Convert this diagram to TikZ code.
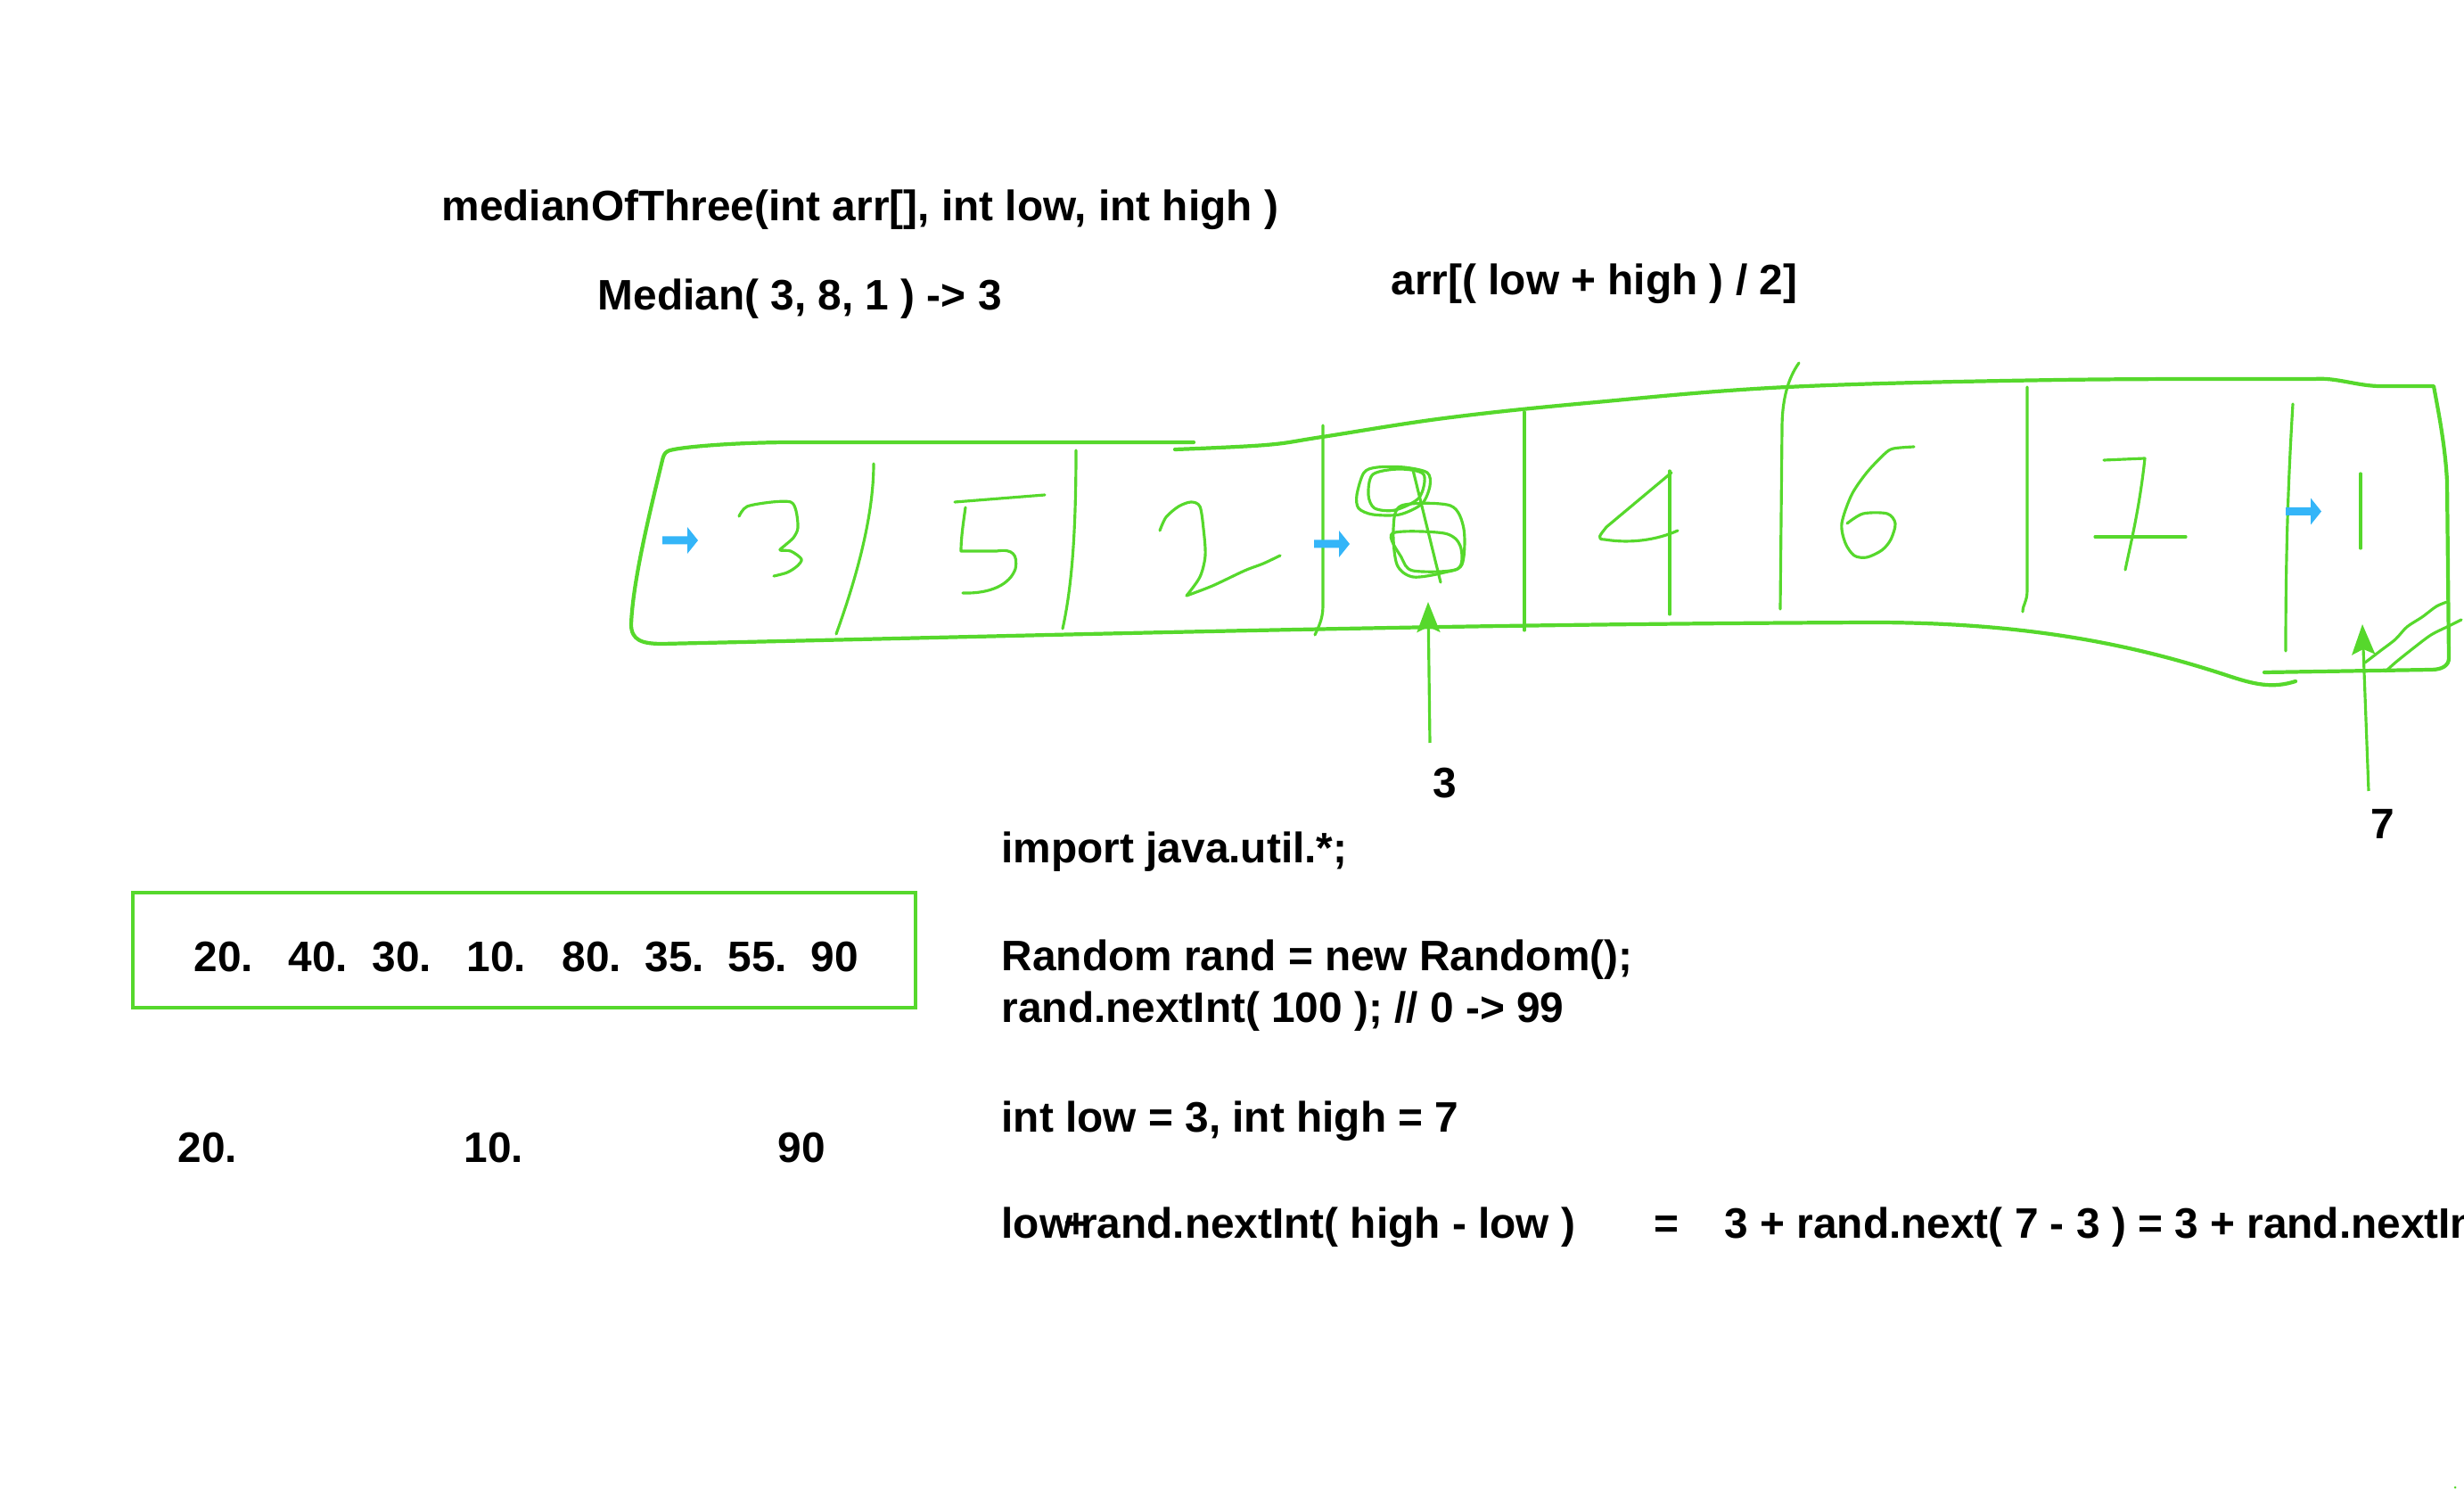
\documentclass[tikz,border=0pt]{standalone}
\usepackage{fontspec}
\setmainfont{Liberation Sans}
\usepackage{tikz}
\usetikzlibrary{arrows.meta}
\usepackage{xcolor}
\definecolor{penGreen}{RGB}{86,216,44}
\definecolor{ptrBlue}{RGB}{52,181,248}
\newcommand{\ptrmark}[1]{\fill[ptrBlue, shift={(#1)}] (0,-0.045) -- (0.28,-0.045) -- (0.28,-0.15) -- (0.40,0) -- (0.28,0.15) -- (0.28,0.045) -- (0,0.045) -- cycle;}

\begin{document}
\begin{tikzpicture}[every node/.style={font=\bfseries\fontsize{13.6}{16}\selectfont, inner sep=0pt},
    outline/.style={penGreen, line width=1.2pt, line cap=round, line join=round},
    stroke/.style={penGreen, line width=0.9pt, line cap=round, line join=round},
    ptr/.style={penGreen, line width=0.9pt, -{Stealth[length=3.4mm, width=2.6mm, inset=0.6mm]}}]
    \useasboundingbox (0,0) rectangle (27.64,-16.72);
    \clip (0,0) rectangle (27.64,-16.72);

    % headings
    \node[anchor=base west] (sig) at (4.95,-2.48) {medianOfThree(int arr[], int low, int high )};
    \node[anchor=base west] (medex) at (6.70,-3.48) {Median( 3, 8, 1 ) -> 3};
    \node[anchor=base west] (midexpr) at (15.60,-3.31) {arr[( low + high ) / 2]};

    % hand drawn array, outline
    \draw[outline] (13.39,-4.96) -- (8.90,-4.96) .. controls (8.20,-4.96) and (7.55,-5.02) .. (7.49,-5.06)
        .. controls (7.45,-5.08) and (7.44,-5.12) .. (7.43,-5.16)
        .. controls (7.30,-5.70) and (7.10,-6.50) .. (7.08,-7.00)
        .. controls (7.08,-7.18) and (7.20,-7.22) .. (7.43,-7.22)
        .. controls (12.0,-7.12) and (16.0,-7.00) .. (21.0,-6.98)
        .. controls (22.8,-6.98) and (24.0,-7.25) .. (25.0,-7.58)
        .. controls (25.3,-7.68) and (25.5,-7.72) .. (25.75,-7.64);
    \draw[outline] plot[smooth, tension=0.6] coordinates {(13.18,-5.04) (14.20,-4.99) (14.83,-4.90) (16.20,-4.69) (17.80,-4.52) (20.05,-4.34) (23.11,-4.26) (25.96,-4.25)}
        .. controls (26.20,-4.23) and (26.45,-4.33) .. (26.70,-4.33) -- (27.30,-4.33)
        .. controls (27.35,-4.60) and (27.43,-5.00) .. (27.45,-5.40) -- (27.47,-7.38)
        .. controls (27.47,-7.46) and (27.40,-7.51) .. (27.27,-7.51) -- (25.40,-7.54);

    % dividers
    \draw[stroke] (9.80,-5.20) .. controls (9.80,-5.80) and (9.60,-6.50) .. (9.38,-7.11);
    \draw[stroke] (12.07,-5.05) .. controls (12.07,-6.00) and (12.02,-6.60) .. (11.92,-7.05);
    \draw[stroke] (14.84,-4.77) -- (14.84,-6.80) .. controls (14.84,-6.95) and (14.78,-7.05) .. (14.75,-7.12);
    \draw[stroke] (17.10,-4.62) -- (17.10,-7.07);
    \draw[stroke] (20.18,-4.07) .. controls (20.05,-4.25) and (19.99,-4.50) .. (19.99,-4.80) -- (19.97,-6.83);
    \draw[stroke] (22.74,-4.34) -- (22.74,-6.62) .. controls (22.74,-6.75) and (22.69,-6.78) .. (22.69,-6.86);
    \draw[stroke] (25.72,-4.53) .. controls (25.68,-5.20) and (25.64,-6.00) .. (25.64,-7.30);

    % digits 3 5 2 8 4 6 7 1
    \draw[stroke] plot[smooth] coordinates {(8.29,-5.79) (8.38,-5.68) (8.66,-5.63) (8.87,-5.63) (8.93,-5.73) (8.95,-5.92) (8.90,-6.03) (8.80,-6.12) (8.75,-6.17) (8.87,-6.18) (8.99,-6.27) (8.94,-6.35) (8.83,-6.42) (8.68,-6.46)};
    \draw[stroke] (10.71,-5.63) -- (11.72,-5.55);
    \draw[stroke] (10.83,-5.69) .. controls (10.80,-5.90) and (10.78,-6.05) .. (10.78,-6.18) -- (11.18,-6.18)
        .. controls (11.36,-6.15) and (11.42,-6.22) .. (11.39,-6.38) .. controls (11.33,-6.55) and (11.12,-6.66) .. (10.80,-6.65);
    \draw[stroke] plot[smooth] coordinates {(13.01,-5.95) (13.08,-5.80) (13.22,-5.68) (13.36,-5.63) (13.46,-5.68) (13.50,-5.93) (13.52,-6.23) (13.46,-6.47) (13.31,-6.68)};
    \draw[stroke] plot[smooth] coordinates {(13.31,-6.68) (13.60,-6.57) (13.96,-6.40) (14.17,-6.32) (14.36,-6.23)};
    \draw[stroke] plot[smooth cycle] coordinates {(15.30,-5.30) (15.45,-5.24) (15.75,-5.24) (16.01,-5.30) (16.04,-5.45) (15.95,-5.65) (15.70,-5.77) (15.40,-5.77) (15.24,-5.70) (15.22,-5.55)};
    \draw[stroke] plot[smooth cycle] coordinates {(15.40,-5.32) (15.70,-5.26) (15.97,-5.32) (15.92,-5.58) (15.65,-5.72) (15.42,-5.70) (15.35,-5.55)};
    \draw[stroke] plot[smooth cycle] coordinates {(15.72,-5.67) (16.27,-5.67) (16.42,-5.93) (16.40,-6.33) (16.20,-6.42) (15.85,-6.47) (15.67,-6.33) (15.63,-5.93)};
    \draw[stroke] plot[smooth cycle] coordinates {(15.62,-5.98) (16.20,-5.98) (16.38,-6.12) (16.35,-6.38) (15.85,-6.40) (15.72,-6.25)};
    \draw[stroke] (15.85,-5.27) -- (16.16,-6.53);
    \draw[stroke] (18.73,-5.28) -- (18.73,-6.89);
    \draw[stroke] (18.75,-5.30) -- (18.02,-5.91) .. controls (17.95,-6.00) and (17.90,-6.05) .. (18.00,-6.05)
        .. controls (18.30,-6.10) and (18.60,-6.05) .. (18.82,-5.95);
    \draw[stroke] plot[smooth] coordinates {(21.47,-5.01) (21.24,-5.03) (21.14,-5.09) (20.94,-5.30) (20.77,-5.55) (20.66,-5.87) (20.70,-6.09) (20.80,-6.23) (20.94,-6.25) (21.11,-6.17) (21.21,-6.05) (21.26,-5.87) (21.17,-5.76) (20.90,-5.76) (20.72,-5.87)};
    \draw[stroke] (23.60,-5.16) -- (24.06,-5.14) .. controls (24.00,-5.70) and (23.90,-6.10) .. (23.84,-6.39);
    \draw[stroke] (23.50,-6.02) -- (24.52,-6.02);
    \draw[stroke] (26.48,-5.31) -- (26.48,-6.15);

    % crossed out corner
    \draw[stroke] plot[smooth] coordinates {(26.53,-7.43) (26.70,-7.30) (26.87,-7.17) (27.00,-7.03) (27.17,-6.92) (27.33,-6.80) (27.45,-6.75)};
    \draw[stroke] plot[smooth] coordinates {(26.76,-7.53) (26.87,-7.43) (27.07,-7.27) (27.27,-7.12) (27.47,-7.02) (27.61,-6.95)};

    % low, mid and high markers
    \ptrmark{7.43,-6.06}
    \ptrmark{14.74,-6.10}
    \ptrmark{25.64,-5.735}

    % index arrows
    \node[anchor=base] (lowlbl) at (16.21,-8.95) {3};
    \node[anchor=base] (highlbl) at (26.73,-9.41) {7};
    \coordinate (midfoot) at (16.04,-8.33);
    \coordinate (midtip) at (16.02,-6.75);
    \coordinate (highfoot) at (26.57,-8.87);
    \coordinate (hightip) at (26.50,-7.00);
    \draw[ptr] (midfoot) -- (midtip);
    \draw[ptr] (highfoot) -- (hightip);

    % sample values
    \draw[penGreen, line width=1.1pt] (1.49,-10.01) rectangle (10.27,-11.30);
    \node[anchor=base west] (v1) at (2.17,-10.90) {20.};
    \node[anchor=base west] (v2) at (3.23,-10.90) {40.};
    \node[anchor=base west] (v3) at (4.17,-10.90) {30.};
    \node[anchor=base west] (v4) at (5.23,-10.90) {10.};
    \node[anchor=base west] (v5) at (6.30,-10.90) {80.};
    \node[anchor=base west] (v6) at (7.23,-10.90) {35.};
    \node[anchor=base west] (v7) at (8.16,-10.90) {55.};
    \node[anchor=base west] (v8) at (9.09,-10.90) {90};
    \node[anchor=base west] (pickfirst) at (1.99,-13.04) {20.};
    \node[anchor=base west] (pickmid) at (5.20,-13.04) {10.};
    \node[anchor=base west] (picklast) at (8.72,-13.04) {90};

    % java notes
    \node[anchor=base west] (imp) at (11.23,-9.68) {import java.util.*;};
    \node[anchor=base west] (randdecl) at (11.23,-10.89) {Random rand = new Random();};
    \node[anchor=base west] (randcall) at (11.23,-11.47) {rand.nextInt( 100 ); // 0 -> 99};
    \node[anchor=base west] (bounds) at (11.23,-12.70) {int low = 3, int high = 7};
    \node[anchor=base west] (formula) at (11.23,-13.88) {low\kern-0.2em+\kern-0.2em rand.nextInt( high - low )};
    \node[anchor=base west] (eqsign) at (18.55,-13.88) {=};
    \node[anchor=base west] (formulaval) at (19.34,-13.88) {3 + rand.next( 7 - 3 ) = 3 + rand.nextInt};

    \fill[penGreen] (27.54,-16.68) circle (0.015);
\end{tikzpicture}
\end{document}
